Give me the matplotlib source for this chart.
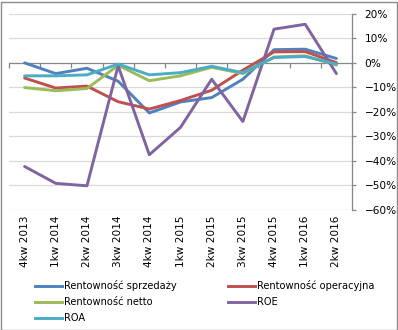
import matplotlib
matplotlib.use("Agg")
import matplotlib.pyplot as plt
from matplotlib.patches import Rectangle
from matplotlib.lines import Line2D
from matplotlib.ticker import PercentFormatter, FixedLocator
import matplotlib.transforms as mtransforms

# Quarterly profitability ratios (in %)
quarters = ["4kw 2013", "1kw 2014", "2kw 2014", "3kw 2014", "4kw 2014", "1kw 2015",
            "2kw 2015", "3kw 2015", "4kw 2015", "1kw 2016", "2kw 2016"]
rent_sprzedazy = [0.0, -4.4, -2.2, -7.5, -20.5, -16.0, -14.2, -6.7, 5.4, 5.6, 1.8]
rent_operacyjna = [-6.2, -10.3, -9.5, -15.9, -18.9, -15.4, -11.2, -3.0, 4.5, 4.6, 0.1]
rent_netto = [-10.1, -11.4, -10.5, -1.0, -7.3, -5.3, -1.8, -4.4, 2.4, 2.9, -0.9]
roe = [-42.4, -49.3, -50.3, -1.2, -37.6, -26.4, -6.7, -24.0, 13.8, 15.8, -4.4]
roa = [-5.3, -5.3, -4.9, -0.5, -4.9, -4.0, -1.4, -4.0, 2.2, 2.6, -0.5]
y_ticks = [20, 10, 0, -10, -20, -30, -40, -50, -60]

series = [
    ("Rentowność sprzedaży", rent_sprzedazy, "#4F81BD"),
    ("Rentowność operacyjna", rent_operacyjna, "#C0504D"),
    ("Rentowność netto", rent_netto, "#9BBB59"),
    ("ROE", roe, "#8064A2"),
    ("ROA", roa, "#4BACC6"),
]

W, H = 398, 330
plt.rcParams["font.family"] = ["DejaVu Sans"]
fs = 7.6
fig = plt.figure(figsize=(W / 100, H / 100), dpi=100)

# plot area in pixel coordinates
left, right, top, bottom = 9, 352, 14, 209.5
ax = fig.add_axes([left / W, 1 - bottom / H, (right - left) / W, (bottom - top) / H])

axis_gray = "#868686"
grid_gray = "#D9D9D9"

x = list(range(len(quarters)))
handles = {}
for name, vals, color in series:
    (ln,) = ax.plot(x, vals, color=color, lw=2.1, solid_capstyle="round",
                    solid_joinstyle="round", zorder=3)
    handles[name] = ln

ax.set_xlim(-0.5, len(quarters) - 0.5)
ax.set_ylim(min(y_ticks), max(y_ticks))

# horizontal gridlines
for v in y_ticks:
    if v != 0:
        ax.axhline(v, color=grid_gray, lw=0.9, zorder=1)

# spines: only right axis and the category axis through 0%
for s in ("top", "left", "bottom"):
    ax.spines[s].set_visible(False)
ax.spines["right"].set_color(axis_gray)
ax.spines["right"].set_linewidth(0.9)
ax.yaxis.tick_right()
ax.yaxis.set_major_locator(FixedLocator(y_ticks))
ax.yaxis.set_major_formatter(PercentFormatter(decimals=0))
ax.tick_params(axis="y", which="major", length=3, width=0.9, color=axis_gray,
               pad=6, labelsize=fs, labelcolor="#000000")

ax.axhline(0, color=axis_gray, lw=0.9, zorder=2)
ax.set_xticks([])
# tick marks between categories on the 0% line
boundaries = [i - 0.5 for i in range(len(quarters) + 1)]
ax.vlines(boundaries, 0, -2.0, color=axis_gray, lw=0.9, zorder=2, clip_on=False)

# category labels below the plot area
trans = mtransforms.blended_transform_factory(ax.transData, fig.transFigure)
for i, q in enumerate(quarters):
    fig.text(i, 1 - 215.5 / H, q, transform=trans, rotation=90, ha="center",
             va="top", fontsize=fs)

# legend in two columns
leg_fs = 7.1
leg_kw = dict(frameon=False, fontsize=leg_fs, handlelength=2.75, handletextpad=0.2,
              labelspacing=0.62, borderpad=0, borderaxespad=0, loc="upper left")
col1 = ["Rentowność sprzedaży", "Rentowność netto", "ROA"]
col2 = ["Rentowność operacyjna", "ROE"]
lg1 = fig.legend([Line2D([], [], color=handles[n].get_color(), lw=2.1) for n in col1], col1,
                 bbox_to_anchor=(35 / W, 1 - 280 / H), **leg_kw)
lg2 = fig.legend([Line2D([], [], color=handles[n].get_color(), lw=2.1) for n in col2], col2,
                 bbox_to_anchor=(228 / W, 1 - 280 / H), **leg_kw)

# outer chart border
fig.patches.append(Rectangle((0.5 / W, 0.5 / H), (W - 1.5) / W, (H - 2) / H,
                             transform=fig.transFigure, fill=False,
                             edgecolor="#8C8C8C", lw=1.0))

fig.savefig("out.png", dpi=100)
